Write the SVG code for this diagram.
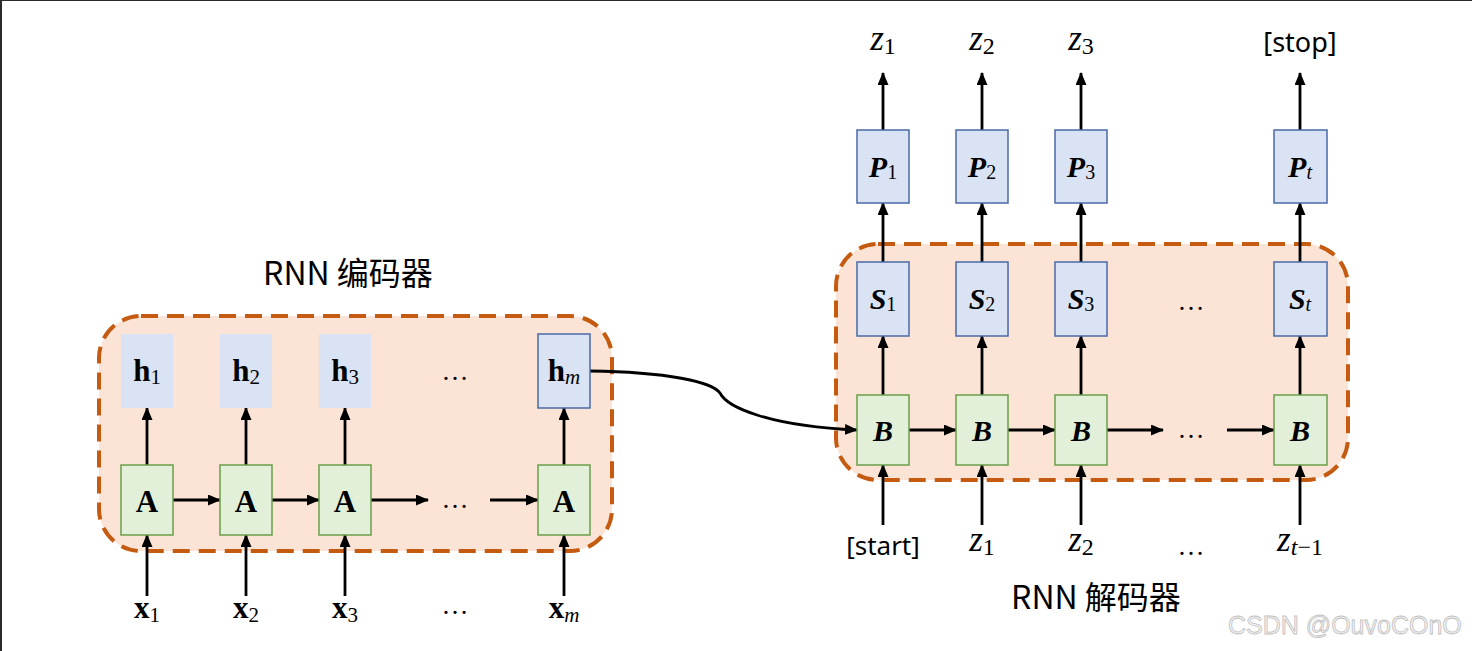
<svg xmlns="http://www.w3.org/2000/svg" width="1472" height="651" viewBox="0 0 1472 651">
<defs>
<marker id="ah" markerUnits="userSpaceOnUse" markerWidth="13" markerHeight="12" refX="12" refY="5.5" orient="auto">
<path d="M0,0 L13,5.5 L0,11 z" fill="#000"/>
</marker>
<style>
.grp{fill:#fbe4d5;stroke:#c55a11;stroke-width:4;stroke-dasharray:17 9}
.blue{fill:#dae3f3}
.blueb{fill:#dae3f3;stroke:#4a6aa8;stroke-width:1.5}
.green{fill:#e2f0d9;stroke:#6a9e48;stroke-width:1.5}
.ar{stroke:#000;stroke-width:2.8;fill:none;marker-end:url(#ah)}
.mb{font-family:"Liberation Serif","DejaVu Serif",serif;font-weight:bold;text-anchor:middle;fill:#000}
.mbi{font-family:"Liberation Serif","DejaVu Serif",serif;font-weight:bold;font-style:italic;text-anchor:middle;fill:#000}
.mi{font-family:"Liberation Serif","DejaVu Serif",serif;font-style:italic;text-anchor:middle;fill:#000}
.sub{font-weight:normal;font-style:normal}
.el{font-family:"Liberation Serif",serif;font-size:27px;text-anchor:middle;fill:#000}
.sans{font-family:"Noto Sans","Noto Sans CJK SC",sans-serif;text-anchor:middle;fill:#000}
.title{font-family:"Noto Sans CJK SC","Noto Sans",sans-serif;font-size:32px;text-anchor:middle;fill:#000}
</style>
</defs>
<rect x="0" y="0" width="1472" height="651" fill="#fff"/>
<rect x="0" y="0" width="1472" height="1" fill="#2b2b2b"/>
<rect x="0" y="0" width="2" height="651" fill="#2b2b2b"/>

<g id="encoder-group"><rect class="grp" x="99" y="316" width="513" height="235" rx="42"/></g>
<g id="decoder-group"><rect class="grp" x="836" y="244" width="512" height="236" rx="42"/></g>

<text class="title" x="348" y="285">RNN 编码器</text>
<text class="title" x="1096" y="609">RNN 解码器</text>

<g id="connectors">
<line class="ar" x1="147" y1="465" x2="147" y2="408"/>
<line class="ar" x1="246" y1="465" x2="246" y2="408"/>
<line class="ar" x1="345" y1="465" x2="345" y2="408"/>
<line class="ar" x1="564" y1="465" x2="564" y2="408"/>
<line class="ar" x1="147" y1="596" x2="147" y2="535"/>
<line class="ar" x1="246" y1="596" x2="246" y2="535"/>
<line class="ar" x1="345" y1="596" x2="345" y2="535"/>
<line class="ar" x1="564" y1="596" x2="564" y2="535"/>
<line class="ar" x1="173" y1="500" x2="220" y2="500"/>
<line class="ar" x1="272" y1="500" x2="319" y2="500"/>
<line class="ar" x1="371" y1="500" x2="428" y2="500"/>
<line class="ar" x1="490" y1="500" x2="538" y2="500"/>
<path class="ar" d="M590,371 C668,372 712,382 720,393 C727,407 768,426 857,430"/>
<line class="ar" x1="883" y1="395" x2="883" y2="336"/>
<line class="ar" x1="982" y1="395" x2="982" y2="336"/>
<line class="ar" x1="1081" y1="395" x2="1081" y2="336"/>
<line class="ar" x1="1300" y1="395" x2="1300" y2="336"/>
<line class="ar" x1="883" y1="262" x2="883" y2="203"/>
<line class="ar" x1="982" y1="262" x2="982" y2="203"/>
<line class="ar" x1="1081" y1="262" x2="1081" y2="203"/>
<line class="ar" x1="1300" y1="262" x2="1300" y2="203"/>
<line class="ar" x1="883" y1="130" x2="883" y2="73"/>
<line class="ar" x1="982" y1="130" x2="982" y2="73"/>
<line class="ar" x1="1081" y1="130" x2="1081" y2="73"/>
<line class="ar" x1="1300" y1="130" x2="1300" y2="73"/>
<line class="ar" x1="883" y1="525" x2="883" y2="465"/>
<line class="ar" x1="982" y1="525" x2="982" y2="465"/>
<line class="ar" x1="1081" y1="525" x2="1081" y2="465"/>
<line class="ar" x1="1300" y1="525" x2="1300" y2="465"/>
<line class="ar" x1="909" y1="430" x2="956" y2="430"/>
<line class="ar" x1="1008" y1="430" x2="1055" y2="430"/>
<line class="ar" x1="1107" y1="430" x2="1163" y2="430"/>
<line class="ar" x1="1227" y1="430" x2="1274" y2="430"/>
</g>

<g id="h1"><rect class="blue" x="121" y="334" width="52" height="74"/><text class="mb" x="147" y="381" font-size="31">h<tspan class="sub" font-size="21" dy="3">1</tspan></text></g>
<g id="h2"><rect class="blue" x="220" y="334" width="52" height="74"/><text class="mb" x="246" y="381" font-size="31">h<tspan class="sub" font-size="21" dy="3">2</tspan></text></g>
<g id="h3"><rect class="blue" x="319" y="334" width="52" height="74"/><text class="mb" x="345" y="381" font-size="31">h<tspan class="sub" font-size="21" dy="3">3</tspan></text></g>
<g id="hm"><rect class="blueb" x="538" y="334" width="52" height="74"/><text class="mb" x="564" y="381" font-size="31">h<tspan class="mi" style="font-weight:normal" font-size="21" dy="3">m</tspan></text></g>
<text class="el" x="455" y="380">…</text>

<g id="A1"><rect class="green" x="121" y="465" width="52" height="70"/><text class="mb" x="147" y="512" font-size="31">A</text></g>
<g id="A2"><rect class="green" x="220" y="465" width="52" height="70"/><text class="mb" x="246" y="512" font-size="31">A</text></g>
<g id="A3"><rect class="green" x="319" y="465" width="52" height="70"/><text class="mb" x="345" y="512" font-size="31">A</text></g>
<g id="Am"><rect class="green" x="538" y="465" width="52" height="70"/><text class="mb" x="564" y="512" font-size="31">A</text></g>
<text class="el" x="455" y="508">…</text>

<g id="x1"><text class="mb" x="147" y="618" font-size="31">x<tspan class="sub" font-size="21" dy="4">1</tspan></text></g>
<g id="x2"><text class="mb" x="246" y="618" font-size="31">x<tspan class="sub" font-size="21" dy="4">2</tspan></text></g>
<g id="x3"><text class="mb" x="345" y="618" font-size="31">x<tspan class="sub" font-size="21" dy="4">3</tspan></text></g>
<g id="xm"><text class="mb" x="564" y="618" font-size="31">x<tspan class="mi" style="font-weight:normal" font-size="21" dy="4">m</tspan></text></g>
<text class="el" x="455" y="614">…</text>

<g id="P1"><rect class="blueb" x="857" y="130" width="52" height="73"/><text class="mbi" x="883" y="177" font-size="30">P<tspan class="sub" font-size="20" dy="2">1</tspan></text></g>
<g id="P2"><rect class="blueb" x="956" y="130" width="52" height="73"/><text class="mbi" x="982" y="177" font-size="30">P<tspan class="sub" font-size="20" dy="2">2</tspan></text></g>
<g id="P3"><rect class="blueb" x="1055" y="130" width="52" height="73"/><text class="mbi" x="1081" y="177" font-size="30">P<tspan class="sub" font-size="20" dy="2">3</tspan></text></g>
<g id="Pt"><rect class="blueb" x="1274" y="130" width="53" height="73"/><text class="mbi" x="1300" y="177" font-size="30">P<tspan class="mi" style="font-weight:normal" font-size="20" dy="2">t</tspan></text></g>

<g id="S1"><rect class="blueb" x="857" y="262" width="52" height="74"/><text class="mbi" x="883" y="309" font-size="30">S<tspan class="sub" font-size="20" dy="2">1</tspan></text></g>
<g id="S2"><rect class="blueb" x="956" y="262" width="52" height="74"/><text class="mbi" x="982" y="309" font-size="30">S<tspan class="sub" font-size="20" dy="2">2</tspan></text></g>
<g id="S3"><rect class="blueb" x="1055" y="262" width="52" height="74"/><text class="mbi" x="1081" y="309" font-size="30">S<tspan class="sub" font-size="20" dy="2">3</tspan></text></g>
<g id="St"><rect class="blueb" x="1274" y="262" width="53" height="74"/><text class="mbi" x="1300" y="309" font-size="30">S<tspan class="mi" style="font-weight:normal" font-size="20" dy="2">t</tspan></text></g>
<text class="el" x="1191" y="310">…</text>

<g id="B1"><rect class="green" x="857" y="395" width="52" height="70"/><text class="mbi" x="883" y="441" font-size="30">B</text></g>
<g id="B2"><rect class="green" x="956" y="395" width="52" height="70"/><text class="mbi" x="982" y="441" font-size="30">B</text></g>
<g id="B3"><rect class="green" x="1055" y="395" width="52" height="70"/><text class="mbi" x="1081" y="441" font-size="30">B</text></g>
<g id="Bt"><rect class="green" x="1274" y="395" width="53" height="70"/><text class="mbi" x="1300" y="441" font-size="30">B</text></g>
<text class="el" x="1191" y="438">…</text>

<g id="out-z1"><text class="mi" x="883" y="50" font-size="35">z<tspan class="sub" font-size="24" dy="4">1</tspan></text></g>
<g id="out-z2"><text class="mi" x="982" y="50" font-size="35">z<tspan class="sub" font-size="24" dy="4">2</tspan></text></g>
<g id="out-z3"><text class="mi" x="1081" y="50" font-size="35">z<tspan class="sub" font-size="24" dy="4">3</tspan></text></g>
<g id="out-stop"><text class="sans" x="1300" y="52" font-size="27">[stop]</text></g>

<g id="in-start"><text class="sans" x="883" y="555" font-size="26">[start]</text></g>
<g id="in-z1"><text class="mi" x="982" y="551" font-size="35">z<tspan class="sub" font-size="24" dy="4">1</tspan></text></g>
<g id="in-z2"><text class="mi" x="1081" y="551" font-size="35">z<tspan class="sub" font-size="24" dy="4">2</tspan></text></g>
<text class="el" x="1191" y="555">…</text>
<g id="in-zt1"><text class="mi" x="1300" y="551" font-size="35">z<tspan font-size="24" dy="4">t</tspan><tspan class="sub" font-size="24">−1</tspan></text></g>

<text x="1228" y="634" font-family="Liberation Sans,Arial,sans-serif" font-size="25" fill="#f4f4f4" stroke="#c0c0c0" stroke-width="0.8">CSDN @OuvoCOnO</text>
</svg>
